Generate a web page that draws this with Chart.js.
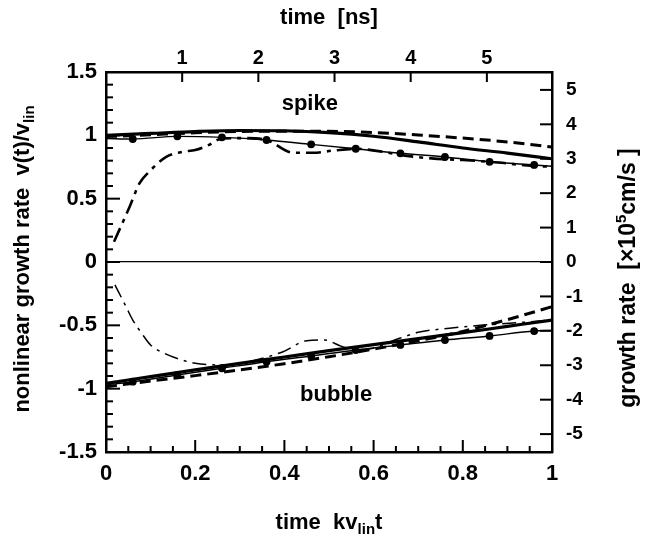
<!DOCTYPE html>
<html>
<head>
<meta charset="utf-8">
<script src="https://cdn.jsdelivr.net/npm/chart.js@4.4.1/dist/chart.umd.min.js"></script>
<style>
html, body { margin: 0; padding: 0; background: #fff; }
#wrap { width: 647px; height: 541px; }
</style>
</head>
<body>
<div id="wrap"><canvas id="chart" width="647" height="541"></canvas></div>
<script>
// time in units of k*v_lin*t, values are v(t)/v_lin
const spikeTimes = [0, 0.1, 0.2, 0.3, 0.4, 0.5, 0.6, 0.7, 0.8, 0.9, 1];
const spikeSolid = [1.0, 1.015, 1.03, 1.038, 1.036, 1.022, 0.993, 0.948, 0.9, 0.86, 0.815];
const spikeDashed = [0.99, 1.005, 1.02, 1.03, 1.033, 1.032, 1.022, 1.003, 0.978, 0.948, 0.908];

const dotTimes = [0, 0.06, 0.16, 0.26, 0.36, 0.46, 0.56, 0.66, 0.76, 0.86, 0.96, 1];
const spikeDots = [0.975, 0.971, 0.992, 0.984, 0.963, 0.929, 0.894, 0.858, 0.829, 0.791, 0.766, 0.756];

const spikeDashDotTimes = [0.018, 0.053, 0.075, 0.097, 0.135, 0.172, 0.2, 0.23, 0.26, 0.31, 0.36, 0.42, 0.465, 0.51, 0.56, 0.62, 0.67, 0.73, 0.8, 0.88, 0.955, 1];
const spikeDashDot = [0.16, 0.437, 0.62, 0.713, 0.83, 0.87, 0.884, 0.923, 0.975, 0.978, 0.963, 0.863, 0.863, 0.88, 0.894, 0.87, 0.84, 0.818, 0.805, 0.785, 0.758, 0.752];

const bubbleTimes = [0, 0.1, 0.2, 0.3, 0.4, 0.5, 0.6, 0.7, 0.8, 0.9, 1];
const bubbleSolid = [-0.958, -0.905, -0.852, -0.8, -0.75, -0.7, -0.652, -0.605, -0.558, -0.508, -0.458];
const bubbleDashed = [-0.985, -0.94, -0.897, -0.852, -0.803, -0.748, -0.688, -0.622, -0.548, -0.455, -0.353];
const bubbleDots = [-0.97, -0.945, -0.892, -0.839, -0.787, -0.742, -0.695, -0.655, -0.616, -0.584, -0.545, -0.54];

const bubbleDashDotTimes = [0.02, 0.045, 0.06, 0.08, 0.1, 0.13, 0.17, 0.2, 0.26, 0.32, 0.397, 0.45, 0.49, 0.53, 0.58, 0.66, 0.7, 0.77, 0.84, 0.92, 1];
const bubbleDashDot = [-0.18, -0.353, -0.458, -0.563, -0.655, -0.72, -0.773, -0.8, -0.813, -0.787, -0.708, -0.621, -0.616, -0.668, -0.69, -0.6, -0.555, -0.523, -0.5, -0.48, -0.458];

// axis ticks
const xTicks = [0, 0.2, 0.4, 0.6, 0.8, 1];
const yTicks = [-1.5, -1, -0.5, 0, 0.5, 1, 1.5];
const nsTicks = [1, 2, 3, 4, 5];
const rateTicks = [-5, -4, -3, -2, -1, 0, 1, 2, 3, 4, 5];
const nsPerUnit = 5.855;     // top axis: ns per unit of kv_lin t
const ratePerUnit = 3.68;    // right axis: 1e5 cm/s per unit of v/v_lin

// region labels
const regionNames = ['spike', 'bubble'];
const regionX = [0.457, 0.516];
const regionY = [1.25, -1.05];

const FONT = "'Liberation Sans', Arial, sans-serif";

function pts(xs, ys) {
    return xs.map((v, i) => ({ x: v, y: ys[i] }));
}

function dotRadius(n) {
    const r = Array(n).fill(3.2);
    r[0] = 0;
    r[n - 1] = 0;
    return r;
}

function line(data, width, dash, extra) {
    return Object.assign({
        data: data,
        borderColor: '#000',
        backgroundColor: '#000',
        borderWidth: width,
        borderDash: dash,
        pointRadius: 0,
        cubicInterpolationMode: 'monotone',
        fill: false
    }, extra || {});
}

// draws text made of pieces, some of them sub/superscript
function drawRich(ctx, parts, cx, cy, angle) {
    ctx.save();
    ctx.translate(cx, cy);
    ctx.rotate(angle);
    ctx.textBaseline = 'alphabetic';
    ctx.textAlign = 'left';
    let total = 0;
    parts.forEach(p => {
        ctx.font = 'bold ' + p.size + 'px ' + FONT;
        p.w = ctx.measureText(p.t).width;
        total += p.w;
    });
    let x = -total / 2;
    parts.forEach(p => {
        ctx.font = 'bold ' + p.size + 'px ' + FONT;
        ctx.fillText(p.t, x, 8 + (p.dy || 0));
        x += p.w;
    });
    ctx.restore();
}

const decorPlugin = {
    id: 'decor',
    afterDraw(chart) {
        const ctx = chart.ctx;
        const sx = chart.scales.x, sy = chart.scales.y;
        const sx2 = chart.scales.x2, sy2 = chart.scales.y2;
        const a = chart.chartArea;
        ctx.save();
        ctx.fillStyle = '#000';
        // inward ticks as small filled bars
        for (let i = -15; i <= 15; i++) {
            const py = sy.getPixelForValue(i / 10);
            const len = Math.abs(i) % 5 === 0 ? 14 : 7;
            ctx.fillRect(a.left, py - 1, len, 2);
        }
        for (let i = 0; i <= 20; i++) {
            const px = sx.getPixelForValue(i / 20);
            const len = i % 4 === 0 ? 12 : 6;
            ctx.fillRect(px - 1, a.bottom - len, 2, len);
        }
        nsTicks.forEach(v => {
            const px = sx2.getPixelForValue(v);
            ctx.fillRect(px - 1, a.top, 2, 10);
        });
        rateTicks.forEach(v => {
            const py = sy2.getPixelForValue(v);
            ctx.fillRect(a.right - 12, py - 1, 12, 2);
        });

        ctx.textAlign = 'center';
        ctx.textBaseline = 'middle';
        ctx.font = 'bold 22px ' + FONT;
        regionNames.forEach((name, i) => {
            ctx.fillText(name, sx.getPixelForValue(regionX[i]), sy.getPixelForValue(regionY[i]));
        });

        const midX = (a.left + a.right) / 2;
        const midY = (a.top + a.bottom) / 2;
        drawRich(ctx, [{ t: 'time  [ns]', size: 22 }], midX, 16, 0);
        drawRich(ctx, [
            { t: 'time  kv', size: 22 },
            { t: 'lin', size: 15, dy: 5 },
            { t: 't', size: 22 }
        ], midX, 521, 0);
        drawRich(ctx, [
            { t: 'nonlinear growth rate  v(t)/v', size: 22 },
            { t: 'lin', size: 15, dy: 5 }
        ], 21, midY - 3, -Math.PI / 2);
        drawRich(ctx, [
            { t: 'growth rate  [\u00d710', size: 23 },
            { t: '5', size: 15, dy: -9 },
            { t: 'cm/s ]', size: 23 }
        ], 627, midY + 16, -Math.PI / 2);
        ctx.restore();
    }
};

const tickFont = (size) => ({ family: FONT, size: size, weight: 'bold' });

const config = {
    type: 'line',
    data: {
        datasets: [
            line(pts(spikeTimes, spikeSolid), 3.2, []),
            line(pts(spikeTimes, spikeDashed), 3, [11, 6]),
            line(pts(dotTimes, spikeDots), 1.4, [], { pointRadius: dotRadius(dotTimes.length) }),
            line(pts(spikeDashDotTimes, spikeDashDot), 2.6, [15, 6, 4, 6]),
            line(pts(bubbleTimes, bubbleSolid), 3.2, []),
            line(pts(bubbleTimes, bubbleDashed), 3, [11, 6]),
            line(pts(dotTimes, bubbleDots), 1.4, [], { pointRadius: dotRadius(dotTimes.length) }),
            line(pts(bubbleDashDotTimes, bubbleDashDot), 1.5, [14, 6, 3, 6])
        ]
    },
    options: {
        responsive: false,
        animation: false,
        devicePixelRatio: 1,
        layout: { padding: 0 },
        plugins: {
            legend: { display: false },
            tooltip: { enabled: false }
        },
        scales: {
            x: {
                type: 'linear',
                position: 'bottom',
                min: 0,
                max: 1,
                afterBuildTicks: s => { s.ticks = xTicks.map(v => ({ value: v })); },
                afterFit: s => { s.height = 89; },
                ticks: {
                    color: '#000',
                    font: tickFont(22),
                    padding: 9,
                    maxRotation: 0,
                    callback: v => String(+v.toFixed(1))
                },
                grid: { display: false, drawTicks: false },
                border: { color: '#000', width: 2.5 }
            },
            x2: {
                type: 'linear',
                position: 'top',
                min: 0,
                max: nsPerUnit,
                afterBuildTicks: s => { s.ticks = nsTicks.map(v => ({ value: v })); },
                afterFit: s => { s.height = 72; },
                ticks: {
                    color: '#000',
                    font: tickFont(20),
                    padding: 2,
                    maxRotation: 0,
                    callback: v => String(v)
                },
                grid: { display: false, drawTicks: false },
                border: { color: '#000', width: 2.5 }
            },
            y: {
                type: 'linear',
                position: 'left',
                min: -1.5,
                max: 1.5,
                afterBuildTicks: s => { s.ticks = yTicks.map(v => ({ value: v })); },
                afterFit: s => { s.width = 106; },
                ticks: {
                    color: '#000',
                    font: tickFont(22),
                    padding: 9,
                    callback: v => String(+v.toFixed(1))
                },
                grid: {
                    drawTicks: false,
                    lineWidth: 1.2,
                    color: c => (c.tick && c.tick.value === 0) ? '#000' : 'rgba(0,0,0,0)'
                },
                border: { color: '#000', width: 2.5 }
            },
            y2: {
                type: 'linear',
                position: 'right',
                min: -1.5 * ratePerUnit,
                max: 1.5 * ratePerUnit,
                afterBuildTicks: s => { s.ticks = rateTicks.map(v => ({ value: v })); },
                afterFit: s => { s.width = 95; },
                ticks: {
                    color: '#000',
                    font: tickFont(19),
                    padding: 14,
                    callback: v => String(v)
                },
                grid: { display: false, drawTicks: false },
                border: { color: '#000', width: 2.5 }
            }
        }
    },
    plugins: [decorPlugin]
};

new Chart(document.getElementById('chart').getContext('2d'), config);
</script>
</body>
</html>
